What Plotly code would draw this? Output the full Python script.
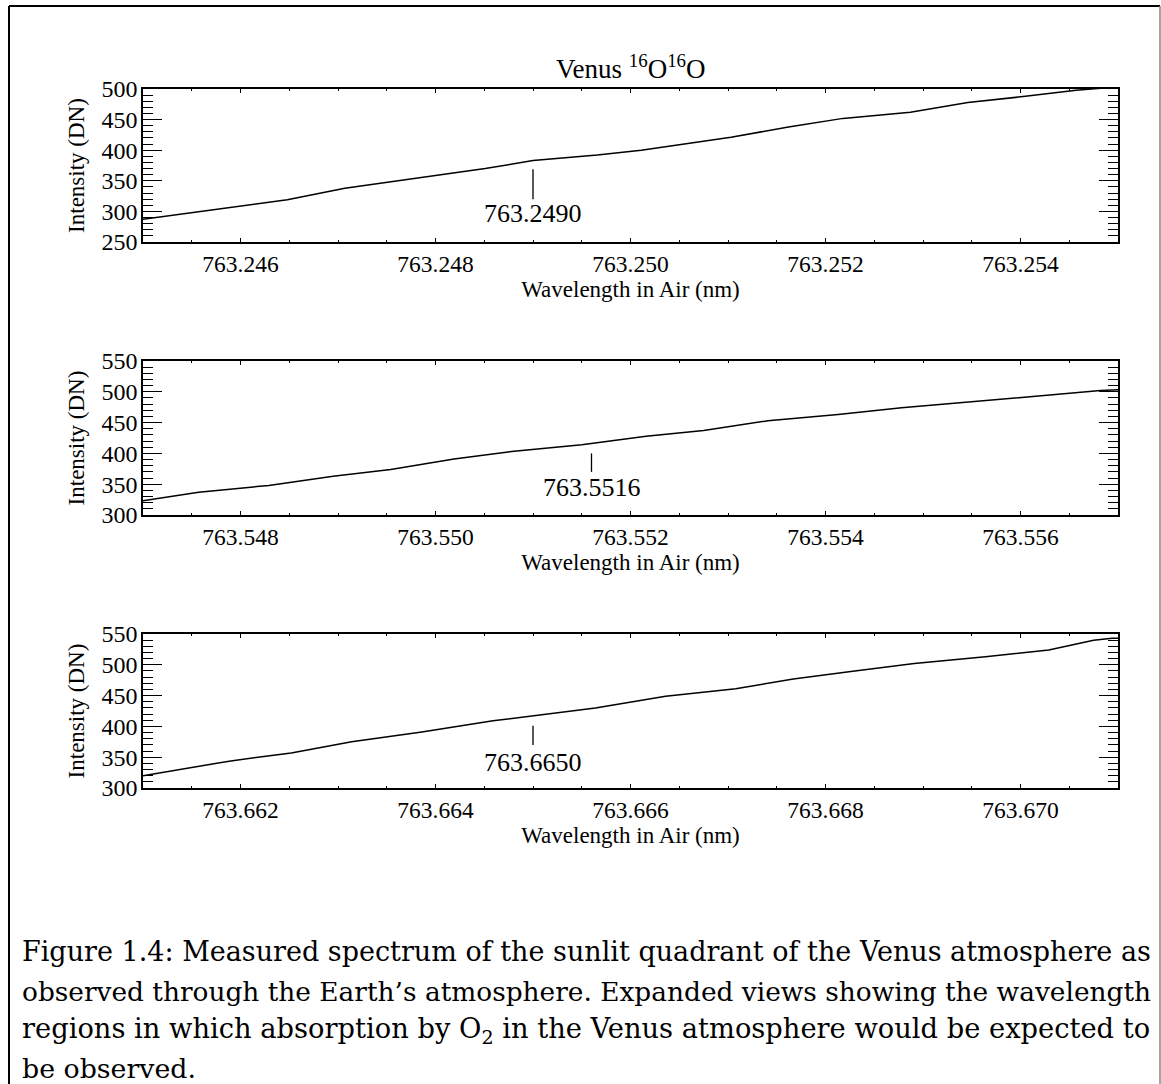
import plotly.graph_objects as go

# Measured Venus spectrum in three narrow windows around expected O2 lines
wl_249 = [763.24500, 763.24552, 763.24648, 763.24707, 763.24762, 763.24851, 763.24900,
          763.24966, 763.25011, 763.25103, 763.25162, 763.25218, 763.25287, 763.25346,
          763.25405, 763.25457, 763.25520]
int_249 = [287, 298, 319, 338, 350, 370, 383, 392, 400, 421, 438, 452, 462, 478, 488, 498, 506]

wl_5516 = [763.54700, 763.54757, 763.54829, 763.54895, 763.54954, 763.55019, 763.55078,
           763.55150, 763.55216, 763.55275, 763.55341, 763.55413, 763.55478, 763.55544,
           763.55609, 763.55682, 763.55710]
int_5516 = [323, 337, 348, 363, 374, 391, 403, 414, 428, 437, 453, 463, 474, 483, 493, 502, 504]

wl_6650 = [763.66100, 763.66190, 763.66252, 763.66314, 763.66386, 763.66459, 763.66564,
           763.66636, 763.66708, 763.66767, 763.66826, 763.66891, 763.66964, 763.67029,
           763.67075, 763.67094, 763.67110]
int_6650 = [320, 344, 357, 375, 391, 409, 430, 449, 461, 477, 489, 502, 513, 524, 540, 543, 543]

# expected line centres and the short marker drawn under each one
line_centres = [763.2490, 763.5516, 763.6650]
marker_lo = [320, 370, 370]
marker_hi = [369, 400, 401]
label_y = [296, 344, 342]

x_ranges = [[763.245, 763.255], [763.547, 763.557], [763.661, 763.671]]
x_tick0 = [763.246, 763.548, 763.662]
y_ranges = [[250, 500], [300, 550], [300, 550]]

title_text = "Venus <sup>16</sup>O<sup>16</sup>O"
x_title = "Wavelength in Air (nm)"
y_title = "Intensity (DN)"
caption_lines = [
    "Figure 1.4: Measured spectrum of the sunlit quadrant of the Venus atmosphere as",
    "observed through the Earth\u2019s atmosphere. Expanded views showing the wavelength",
    "regions in which absorption by O<sub>2</sub> in the Venus atmosphere would be expected to",
    "be observed.",
]
# per-line sizes so the full lines fill the text block width
caption_sizes = [27.0, 26.4, 27.3, 26.8]

W, H = 1161, 1084
SERIF = "Liberation Serif"

series = [(wl_249, int_249), (wl_5516, int_5516), (wl_6650, int_6650)]
# panel boxes in pixels (top, bottom)
panel_px = [(89, 242), (361, 515), (634, 788)]
x_left, x_right = 143, 1118

fig = go.Figure()
layout = dict(
    width=W, height=H,
    margin=dict(l=0, r=0, t=0, b=0, pad=0, autoexpand=False),
    paper_bgcolor="white", plot_bgcolor="white",
    showlegend=False,
    font=dict(family=SERIF, color="black", size=23),
)

shapes = []
annotations = []

for i, ((xs, ys), (top, bot)) in enumerate(zip(series, panel_px)):
    n = "" if i == 0 else str(i + 1)
    fig.add_trace(go.Scatter(x=xs, y=ys, mode="lines",
                             line=dict(color="black", width=1.5),
                             xaxis="x" + n, yaxis="y" + n))
    layout["xaxis" + n] = dict(
        domain=[x_left / W, x_right / W], anchor="y" + n, automargin=False,
        range=x_ranges[i], tick0=x_tick0[i], dtick=0.002, tickformat=".3f",
        ticks="inside", ticklen=4, tickwidth=1.2, tickcolor="black",
        showline=True, linecolor="black", linewidth=1.5, mirror="ticks",
        showgrid=False, zeroline=False,
        minor=dict(ticks="inside", dtick=0.0005, tick0=x_tick0[i], ticklen=2,
                   tickwidth=1, tickcolor="black", showgrid=False),
        tickfont=dict(size=23.5), ticklabelstandoff=0,
        title=dict(text=x_title, font=dict(size=23), standoff=4),
    )
    layout["yaxis" + n] = dict(
        domain=[1 - bot / H, 1 - top / H], anchor="x" + n, automargin=False,
        range=y_ranges[i], dtick=50,
        ticks="inside", ticklen=19, tickwidth=1.2, tickcolor="black",
        showline=True, linecolor="black", linewidth=1.5, mirror="ticks",
        showgrid=False, zeroline=False,
        minor=dict(ticks="inside", dtick=10, ticklen=10, tickwidth=1,
                   tickcolor="black", showgrid=False),
        tickfont=dict(size=24), ticklabelstandoff=-1,
        title=dict(text=y_title, font=dict(size=23), standoff=10),
    )
    c = line_centres[i]
    shapes.append(dict(type="line", xref="x" + n, yref="y" + n,
                       x0=c, x1=c, y0=marker_lo[i], y1=marker_hi[i],
                       line=dict(color="black", width=1.3)))
    annotations.append(dict(xref="x" + n, yref="y" + n, x=c, y=label_y[i],
                            text=f"{c:.4f}", showarrow=False,
                            xanchor="center", yanchor="middle",
                            font=dict(family=SERIF, size=26, color="black")))

# title above the first panel
annotations.append(dict(xref="paper", yref="paper", x=(x_left + x_right) / 2 / W,
                        y=1 - 67 / H, text=title_text, showarrow=False,
                        xanchor="center", yanchor="middle",
                        font=dict(family=SERIF, size=27, color="black")))

# caption under the figure
caption_y = [951, 991, 1031, 1068]
for txt, yc, fs in zip(caption_lines, caption_y, caption_sizes):
    annotations.append(dict(xref="paper", yref="paper", x=20 / W, y=1 - yc / H,
                            text=txt, showarrow=False, xanchor="left", yanchor="middle",
                            font=dict(family="DejaVu Serif", size=fs, color="black")))

# figure frame
shapes.append(dict(type="line", xref="paper", yref="paper",
                   x0=9 / W, x1=9 / W, y0=1 - 6 / H, y1=0,
                   line=dict(color="black", width=2)))
shapes.append(dict(type="line", xref="paper", yref="paper",
                   x0=9 / W, x1=1160 / W, y0=1 - 6 / H, y1=1 - 6 / H,
                   line=dict(color="black", width=2)))
shapes.append(dict(type="line", xref="paper", yref="paper",
                   x0=1160 / W, x1=1160 / W, y0=1 - 6 / H, y1=0,
                   line=dict(color="#888888", width=1.5)))

layout["shapes"] = shapes
layout["annotations"] = annotations
fig.update_layout(**layout)
fig.write_html("out.html")
